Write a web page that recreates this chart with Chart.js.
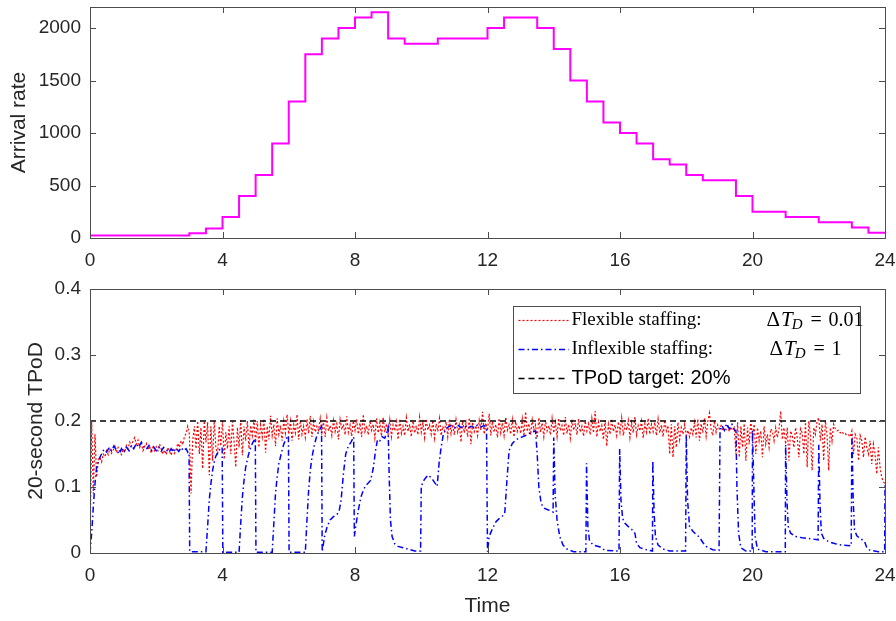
<!DOCTYPE html>
<html>
<head>
<meta charset="utf-8">
<script src="https://cdn.jsdelivr.net/npm/chart.js@4.4.1/dist/chart.umd.min.js"></script>
<style>
  body { margin: 0; background: #fff; width: 896px; height: 621px; overflow: hidden; position: relative; }
  canvas { position: absolute; left: 0; }
  #graficoChegadas { top: 0; }
  #graficoTPoD { top: 280px; }
</style>
</head>
<body>
<canvas id="graficoChegadas" width="896" height="280"></canvas>
<canvas id="graficoTPoD" width="896" height="341"></canvas>
<script>
// arrival rate (step function): start of each interval and its value
const arrivalStart = [0, 3, 3.5, 4, 4.5, 5, 5.5, 6, 6.5, 7, 7.5, 8, 8.5, 9, 9.5, 10.5, 12, 12.5, 13.5,
  14, 14.5, 15, 15.5, 16, 16.5, 17, 17.5, 18, 18.5, 19.5, 20, 21, 22, 23, 23.5, 24];
const arrivalRate = [25, 45, 90, 200, 400, 600, 900, 1300, 1750, 1900, 2000, 2100, 2150, 1900, 1850, 1900, 2000, 2100, 2000,
  1800, 1500, 1300, 1100, 1000, 900, 750, 700, 600, 550, 400, 250, 200, 150, 100, 50, 50];

// flexible staffing TPoD, read every 0.05 h (one row per hour)
const flexByHour = [
  [0.000,0.200,0.090,0.180,0.115,0.140,0.145,0.138,0.150,0.146,0.155,0.149,0.158,0.151,0.156,0.162,0.152,0.160,0.154,0.149],
  [0.158,0.153,0.163,0.158,0.168,0.162,0.170,0.175,0.165,0.171,0.160,0.166,0.155,0.161,0.166,0.156,0.162,0.151,0.160,0.155],
  [0.161,0.155,0.165,0.158,0.150,0.156,0.149,0.160,0.154,0.148,0.159,0.151,0.156,0.166,0.160,0.170,0.164,0.176,0.181,0.192],
  [0.180,0.090,0.170,0.192,0.158,0.200,0.150,0.190,0.128,0.200,0.168,0.198,0.118,0.192,0.140,0.200,0.160,0.148,0.192,0.162],
  [0.200,0.142,0.183,0.158,0.192,0.150,0.199,0.168,0.130,0.190,0.160,0.201,0.148,0.192,0.170,0.200,0.158,0.193,0.178,0.202],
  [0.168,0.200,0.160,0.194,0.176,0.203,0.152,0.192,0.172,0.208,0.178,0.195,0.162,0.204,0.180,0.193,0.170,0.200,0.182,0.210],
  [0.180,0.200,0.170,0.194,0.182,0.210,0.172,0.201,0.180,0.192,0.175,0.203,0.181,0.208,0.176,0.199,0.183,0.192,0.186,0.204],
  [0.182,0.198,0.176,0.205,0.185,0.193,0.178,0.201,0.184,0.196,0.172,0.202,0.187,0.195,0.179,0.207,0.183,0.194,0.177,0.200],
  [0.186,0.203,0.180,0.197,0.176,0.210,0.184,0.193,0.179,0.201,0.186,0.195,0.174,0.204,0.182,0.198,0.177,0.206,0.183,0.196],
  [0.180,0.202,0.176,0.194,0.185,0.199,0.172,0.203,0.181,0.192,0.178,0.205,0.184,0.195,0.176,0.200,0.182,0.193,0.179,0.206],
  [0.183,0.197,0.175,0.203,0.186,0.194,0.180,0.201,0.174,0.196,0.184,0.204,0.178,0.192,0.185,0.199,0.176,0.203,0.181,0.195],
  [0.179,0.202,0.183,0.194,0.168,0.200,0.182,0.197,0.176,0.205,0.165,0.198,0.184,0.193,0.178,0.201,0.186,0.214,0.180,0.197],
  [0.185,0.211,0.178,0.199,0.183,0.195,0.175,0.204,0.182,0.197,0.178,0.206,0.186,0.194,0.180,0.202,0.176,0.199,0.184,0.193],
  [0.181,0.203,0.177,0.214,0.184,0.196,0.179,0.202,0.186,0.194,0.174,0.205,0.183,0.197,0.176,0.201,0.185,0.193,0.179,0.204],
  [0.182,0.198,0.176,0.204,0.185,0.193,0.178,0.206,0.181,0.195,0.174,0.202,0.186,0.197,0.179,0.203,0.183,0.192,0.177,0.200],
  [0.185,0.196,0.179,0.204,0.182,0.215,0.176,0.198,0.184,0.193,0.172,0.201,0.162,0.195,0.180,0.203,0.184,0.194,0.178,0.199],
  [0.183,0.205,0.178,0.194,0.186,0.201,0.175,0.197,0.182,0.206,0.179,0.193,0.185,0.200,0.174,0.196,0.183,0.204,0.180,0.195],
  [0.184,0.198,0.178,0.203,0.182,0.194,0.176,0.201,0.185,0.193,0.150,0.195,0.145,0.192,0.160,0.198,0.172,0.190,0.180,0.195],
  [0.178,0.186,0.176,0.190,0.180,0.198,0.175,0.203,0.170,0.196,0.182,0.205,0.177,0.199,0.212,0.188,0.178,0.200,0.183,0.194],
  [0.188,0.193,0.185,0.190,0.187,0.192,0.184,0.191,0.186,0.190,0.150,0.198,0.145,0.192,0.160,0.196,0.140,0.190,0.165,0.200],
  [0.175,0.195,0.150,0.190,0.170,0.185,0.145,0.192,0.165,0.180,0.160,0.188,0.185,0.170,0.190,0.175,0.188,0.215,0.172,0.190],
  [0.165,0.190,0.140,0.185,0.178,0.160,0.190,0.175,0.145,0.188,0.182,0.150,0.198,0.130,0.200,0.178,0.125,0.190,0.180,0.200],
  [0.205,0.170,0.195,0.140,0.200,0.180,0.125,0.190,0.170,0.195,0.188,0.185,0.186,0.182,0.184,0.180,0.181,0.178,0.179,0.176],
  [0.185,0.150,0.180,0.175,0.140,0.178,0.170,0.145,0.176,0.160,0.150,0.170,0.135,0.165,0.150,0.120,0.160,0.130,0.115,0.108]
];
const flexEnd = 0.105;

// inflexible staffing TPoD: times and values
const inflexTime = [0, 0.05, 0.1, 0.15, 0.2, 0.28, 0.35, 0.42, 0.5, 0.58, 0.65, 0.72, 0.8, 0.88, 0.95,
  1.02, 1.1, 1.18, 1.25, 1.32, 1.4, 1.47, 1.55, 1.62, 1.7, 1.78, 1.85, 1.92,
  2, 2.08, 2.15, 2.22, 2.3, 2.38, 2.45, 2.52, 2.6, 2.68, 2.75, 2.82, 2.9, 2.96, 2.99,
  3.01, 3.3, 3.5, 3.55, 3.6, 3.65, 3.7, 3.75, 3.8, 3.87, 3.93, 3.99,
  4.01, 4.5, 4.55, 4.6, 4.65, 4.7, 4.78, 4.85, 4.92, 4.99,
  5.01, 5.5, 5.55, 5.6, 5.65, 5.7, 5.78, 5.85, 5.92, 5.99,
  6.01, 6.5, 6.55, 6.6, 6.65, 6.7, 6.78, 6.85, 6.92, 6.99,
  7.01, 7.08, 7.16, 7.25, 7.35, 7.45, 7.52, 7.58, 7.65, 7.72, 7.8, 7.88, 7.96, 7.98,
  8.02, 8.1, 8.18, 8.25, 8.32, 8.4, 8.47, 8.55, 8.62, 8.68, 8.75, 8.82, 8.9, 8.96,
  9, 9.03, 9.07, 9.12, 9.2, 9.3, 9.45, 9.6, 9.8, 9.98,
  10, 10.05, 10.12, 10.2, 10.28, 10.36, 10.44, 10.48, 10.54, 10.6, 10.66, 10.74, 10.82, 10.9,
  11, 11.1, 11.2, 11.3, 11.4, 11.5, 11.6, 11.7, 11.8, 11.9, 11.97,
  12, 12.05, 12.15, 12.25, 12.35, 12.45, 12.52, 12.58, 12.65, 12.75, 12.85, 12.95,
  13.05, 13.15, 13.25, 13.35, 13.45, 13.5, 13.55, 13.62, 13.7, 13.8, 13.9, 13.98,
  14, 14.04, 14.1, 14.18, 14.28, 14.4, 14.6, 14.97,
  14.99, 15.03, 15.08, 15.2, 15.4, 15.55, 15.97,
  15.99, 16.03, 16.08, 16.15, 16.25, 16.35, 16.45, 16.5, 16.6, 16.8, 16.98,
  16.99, 17.03, 17.07, 17.15, 17.3, 17.5, 17.98,
  18, 18.04, 18.1, 18.2, 18.3, 18.4, 18.5, 18.6, 18.8, 18.99,
  19.02, 19.08, 19.15, 19.22, 19.3, 19.38, 19.45, 19.5, 19.53, 19.58, 19.65, 19.8, 19.99,
  20, 20.04, 20.08, 20.15, 20.4, 20.99,
  21, 21.04, 21.08, 21.15, 21.3, 21.5, 21.7, 21.98,
  22, 22.04, 22.08, 22.15, 22.3, 22.5, 22.7, 22.98,
  23, 23.04, 23.08, 23.15, 23.25, 23.38, 23.45, 23.55, 23.8, 23.99, 24];
const inflexTPoD = [0, 0.03, 0.07, 0.105, 0.13, 0.143, 0.15, 0.157, 0.153, 0.16, 0.155, 0.162, 0.156, 0.15, 0.158,
  0.152, 0.16, 0.155, 0.163, 0.158, 0.166, 0.16, 0.168, 0.161, 0.157, 0.163, 0.156, 0.161,
  0.155, 0.16, 0.154, 0.16, 0.156, 0.152, 0.158, 0.153, 0.159, 0.154, 0.16, 0.155, 0.158, 0.152, 0.152,
  0.002, 0.002, 0.002, 0.04, 0.08, 0.105, 0.125, 0.138, 0.147, 0.153, 0.158, 0.16,
  0.001, 0.001, 0.045, 0.085, 0.11, 0.13, 0.148, 0.16, 0.168, 0.173,
  0.001, 0.001, 0.045, 0.09, 0.115, 0.135, 0.152, 0.165, 0.173, 0.178,
  0.001, 0.001, 0.05, 0.095, 0.125, 0.145, 0.165, 0.178, 0.186, 0.192,
  0.002, 0.025, 0.04, 0.05, 0.055, 0.058, 0.063, 0.08, 0.12, 0.15, 0.162, 0.168, 0.176, 0.025,
  0.04, 0.065, 0.085, 0.095, 0.102, 0.106, 0.11, 0.128, 0.155, 0.172, 0.17, 0.176, 0.174, 0.183,
  0.19, 0.12, 0.05, 0.025, 0.014, 0.01, 0.008, 0.006, 0.003, 0.003,
  0.1, 0.108, 0.113, 0.118, 0.115, 0.11, 0.104, 0.101, 0.137, 0.16, 0.178, 0.188, 0.191, 0.193,
  0.19, 0.194, 0.19, 0.193, 0.189, 0.192, 0.19, 0.194, 0.191, 0.193, 0.19,
  0.002, 0.025, 0.037, 0.047, 0.052, 0.056, 0.06, 0.105, 0.155, 0.166, 0.171, 0.174,
  0.176, 0.178, 0.181, 0.183, 0.185, 0.15, 0.1, 0.075, 0.068, 0.066, 0.064, 0.062,
  0.175, 0.09, 0.05, 0.025, 0.012, 0.006, 0.002, 0.002,
  0.136, 0.04, 0.018, 0.012, 0.009, 0.004, 0.003,
  0.158, 0.08, 0.052, 0.045, 0.04, 0.036, 0.03, 0.015, 0.008, 0.005, 0.003,
  0.14, 0.06, 0.025, 0.012, 0.006, 0.003, 0.003,
  0.179, 0.08, 0.04, 0.033, 0.028, 0.024, 0.016, 0.01, 0.005, 0.004,
  0.186, 0.193, 0.186, 0.196, 0.188, 0.195, 0.187, 0.185, 0.1, 0.03, 0.008, 0.003, 0.003,
  0.186, 0.1, 0.025, 0.006, 0.002, 0.002,
  0.164, 0.08, 0.04, 0.03, 0.025, 0.023, 0.022, 0.02,
  0.164, 0.07, 0.03, 0.022, 0.017, 0.014, 0.012, 0.011,
  0.179, 0.08, 0.035, 0.026, 0.022, 0.018, 0.008, 0.004, 0.002, 0.002, 0.103];

const tpodTarget = 0.2;
const xTicks = [0, 4, 8, 12, 16, 20, 24];
const arrivalTicks = [0, 500, 1000, 1500, 2000];
const tpodTicks = [0, 0.1, 0.2, 0.3, 0.4];

const fonte = "'Liberation Sans', Arial, Helvetica, sans-serif";
const serifa = "'Liberation Serif', 'DejaVu Serif', serif";
const corTexto = "#262626";
const corEixo = "#4d4d4d";

// pontos para o Chart.js
const pontosChegada = arrivalStart.map((t, i) => ({ x: t, y: arrivalRate[i] }));
const pontosFlex = [];
flexByHour.forEach((linha, h) => {
  linha.forEach((v, i) => pontosFlex.push({ x: h + i * 0.05, y: v }));
});
pontosFlex.push({ x: 24, y: flexEnd });
const pontosInflex = inflexTime.map((t, i) => ({ x: t, y: inflexTPoD[i] }));

// moldura com marcas para dentro (estilo MATLAB)
const moldura = {
  id: "moldura",
  afterDatasetsDraw(chart) {
    const { ctx, chartArea: a, scales } = chart;
    ctx.save();
    ctx.strokeStyle = corEixo;
    ctx.lineWidth = 1;
    ctx.strokeRect(Math.round(a.left) + 0.5, Math.round(a.top) + 0.5,
      Math.round(a.right - a.left), Math.round(a.bottom - a.top));
    const tl = 6;
    ctx.beginPath();
    scales.x.ticks.forEach(t => {
      const px = Math.round(scales.x.getPixelForValue(t.value)) + 0.5;
      ctx.moveTo(px, a.bottom); ctx.lineTo(px, a.bottom - tl);
      ctx.moveTo(px, a.top); ctx.lineTo(px, a.top + tl);
    });
    scales.y.ticks.forEach(t => {
      const py = Math.round(scales.y.getPixelForValue(t.value)) + 0.5;
      ctx.moveTo(a.left, py); ctx.lineTo(a.left + tl, py);
      ctx.moveTo(a.right, py); ctx.lineTo(a.right - tl, py);
    });
    ctx.stroke();
    ctx.restore();
  }
};

function eixoX(altura) {
  return {
    type: "linear", min: 0, max: 24,
    afterBuildTicks: s => { s.ticks = xTicks.map(v => ({ value: v })); },
    afterFit: s => { s.height = altura; s.paddingLeft = 0; s.paddingRight = 0; },
    ticks: { font: { family: fonte, size: 19 }, color: corTexto, padding: 11, maxRotation: 0 },
    grid: { display: false, drawTicks: false }, border: { display: false }
  };
}

function eixoY(min, max, valores, rotulo, recuo, formato) {
  return {
    min: min, max: max,
    afterBuildTicks: s => { s.ticks = valores.map(v => ({ value: v })); },
    afterFit: s => { s.width = 90; s.paddingTop = 0; s.paddingBottom = 0; },
    ticks: { font: { family: fonte, size: 19 }, color: corTexto, padding: 9, callback: formato },
    grid: { display: false, drawTicks: false }, border: { display: false },
    title: { display: true, text: rotulo, color: corTexto,
      font: { family: fonte, size: 21 }, padding: { top: recuo, bottom: 0 } }
  };
}

// gráfico de cima: taxa de chegada
new Chart(document.getElementById("graficoChegadas").getContext("2d"), {
  type: "line",
  data: {
    datasets: [{
      data: pontosChegada,
      stepped: true,
      borderColor: "#ff00ff",
      borderWidth: 2,
      pointRadius: 0,
      fill: false
    }]
  },
  options: {
    responsive: false,
    animation: false,
    layout: { padding: { top: 7, right: 11, left: 0, bottom: 0 } },
    plugins: { legend: { display: false }, tooltip: { enabled: false } },
    scales: {
      x: eixoX(42),
      y: eixoY(0, 2200, arrivalTicks, "Arrival rate", 7, v => String(v))
    }
  },
  plugins: [moldura]
});

// legenda desenhada à mão (precisa de subscrito)
const legendaTPoD = {
  id: "legendaTPoD",
  afterDatasetsDraw(chart) {
    const { ctx, chartArea: a } = chart;
    const bx = Math.round(a.right - 372) + 0.5, by = Math.round(a.top + 17) + 0.5;
    const bw = 347, bh = 87;
    ctx.save();
    ctx.fillStyle = "#fff";
    ctx.fillRect(bx, by, bw, bh);
    ctx.strokeStyle = corEixo;
    ctx.lineWidth = 1;
    ctx.strokeRect(bx, by, bw, bh);

    const linhas = [
      { cor: "#ff0000", dash: [2, 2], w: 1.2, y: by + 14, txt: "Flexible staffing:", eq: 297, val: "0.01" },
      { cor: "#0000ff", dash: [6, 3, 1.5, 3], w: 1.5, y: by + 43, txt: "Inflexible staffing:", eq: 300, val: "1" },
      { cor: "#000000", dash: [6, 4], w: 1.5, y: by + 72, txt: "TPoD target: 20%" }
    ];
    const fDelta = "21px " + serifa, fT = "italic 21px " + serifa, fD = "italic 15px " + serifa;
    linhas.forEach(l => {
      ctx.beginPath();
      ctx.setLineDash(l.dash);
      ctx.strokeStyle = l.cor;
      ctx.lineWidth = l.w;
      ctx.moveTo(bx + 5, l.y);
      ctx.lineTo(bx + 55, l.y);
      ctx.stroke();
      ctx.setLineDash([]);
      ctx.fillStyle = "#000";
      ctx.textBaseline = "middle";
      ctx.textAlign = "left";
      if (l.eq) {
        ctx.font = "19px " + serifa;
        ctx.fillText(l.txt, bx + 58, l.y);
        // ΔT_D alinhado para terminar antes do sinal de igual
        ctx.font = fDelta; const wDelta = ctx.measureText("\u0394").width;
        ctx.font = fT; const wT = ctx.measureText("T").width;
        ctx.font = fD; const wD = ctx.measureText("D").width;
        let x = bx + l.eq - 8 - (wDelta + 1 + wT - 1 + wD);
        ctx.font = fDelta;
        ctx.fillText("\u0394", x, l.y);
        x += wDelta + 1;
        ctx.font = fT;
        ctx.fillText("T", x, l.y);
        x += wT - 1;
        ctx.font = fD;
        ctx.fillText("D", x, l.y + 5);
        ctx.font = "20px " + serifa;
        ctx.fillText("=", bx + l.eq, l.y);
        ctx.fillText(l.val, bx + l.eq + 18, l.y);
      } else {
        ctx.font = "20px " + fonte;
        ctx.fillText(l.txt, bx + 58, l.y);
      }
    });
    ctx.restore();
  }
};

// gráfico de baixo: TPoD de 20 segundos
new Chart(document.getElementById("graficoTPoD").getContext("2d"), {
  type: "line",
  data: {
    datasets: [
      {
        label: "Flexible staffing",
        data: pontosFlex,
        borderColor: "#ff0000",
        borderWidth: 1.2,
        borderDash: [2, 2],
        pointRadius: 0,
        fill: false,
        order: 3
      },
      {
        label: "Inflexible staffing",
        data: pontosInflex,
        borderColor: "#0000ff",
        borderWidth: 1.5,
        borderDash: [6, 3, 1.5, 3],
        pointRadius: 0,
        fill: false,
        order: 2
      },
      {
        label: "TPoD target: 20%",
        data: [{ x: 0, y: tpodTarget }, { x: 24, y: tpodTarget }],
        borderColor: "#000000",
        borderWidth: 1.5,
        borderDash: [6, 4],
        pointRadius: 0,
        fill: false,
        order: 1
      }
    ]
  },
  options: {
    responsive: false,
    animation: false,
    layout: { padding: { top: 9, right: 11, left: 0, bottom: 0 } },
    plugins: { legend: { display: false }, tooltip: { enabled: false } },
    scales: {
      x: Object.assign(eixoX(68), {
        title: { display: true, text: "Time", color: corTexto,
          font: { family: fonte, size: 21 }, padding: { top: 0, bottom: 2 } }
      }),
      y: eixoY(0, 0.4, tpodTicks, "20-second TPoD", 24, v => v === 0 ? "0" : v.toFixed(1))
    }
  },
  plugins: [moldura, legendaTPoD]
});
</script>
</body>
</html>
